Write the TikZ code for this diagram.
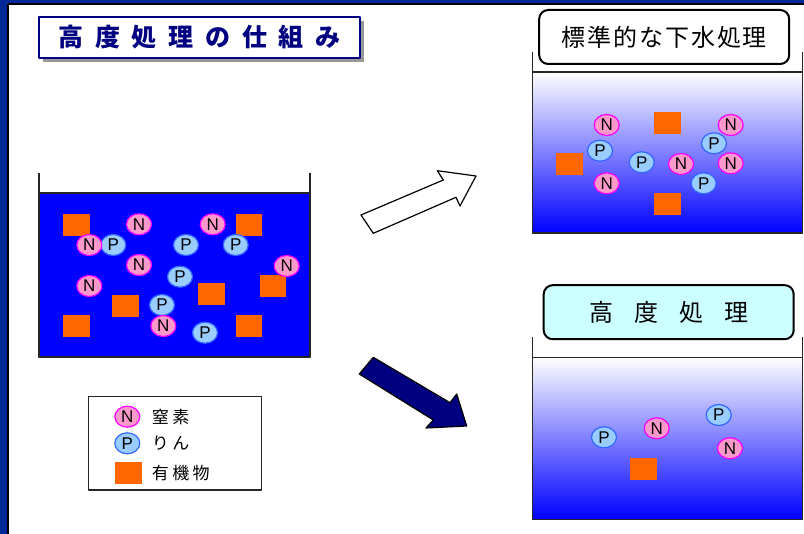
\documentclass[tikz,border=0pt]{standalone}
\usepackage{fontspec}
\setmainfont{Liberation Sans}
\newfontfamily\jpfont{Noto Sans CJK JP}
\usetikzlibrary{shapes.geometric, shadows}
\definecolor{framecolor}{RGB}{0, 40, 153}
\definecolor{titlecolor}{RGB}{0, 0, 128}
\definecolor{watercolor}{RGB}{0, 0, 255}
\definecolor{nfill}{RGB}{255, 153, 204}
\definecolor{nedge}{RGB}{255, 0, 255}
\definecolor{pfill}{RGB}{153, 204, 255}
\definecolor{pedge}{RGB}{51, 102, 255}
\definecolor{orgcolor}{RGB}{255, 102, 0}
\definecolor{cleancolor}{RGB}{204, 255, 255}

\begin{document}
\begin{tikzpicture}[x=1pt, y=-1pt, line join=round,
  nitro/.style={ellipse, draw=nedge, fill=nfill, line width=1.2pt,
    minimum width=25pt, minimum height=21pt, inner sep=0pt,
    font=\fontsize{17}{17}\selectfont},
  phos/.style={nitro, draw=pedge, fill=pfill},
  organic/.style={rectangle, fill=orgcolor, minimum width=26.5pt,
    minimum height=22pt, inner sep=0pt},
  tankwall/.style={line width=1.5pt, black!85},
  labelbox/.style={draw=black, line width=2pt, rounded corners=9pt,
    minimum width=250pt, minimum height=54pt, inner sep=0pt},
  legendtext/.style={anchor=west, inner sep=0pt,
    font=\jpfont\fontsize{17}{17}\selectfont\addfontfeature{LetterSpace=20}}]

  \useasboundingbox (0,0) rectangle (804,534);

  % Frame
  \fill[framecolor] (0,0) rectangle (7,534);
  \fill[framecolor] (0,0) rectangle (804,3);
  \draw[black, line width=1.5pt] (7.8,534) -- (7.8,3.8) -- (804,3.8);

  % Title
  \node[draw=titlecolor, fill=white, line width=2pt, minimum width=321pt,
    minimum height=41pt, inner sep=0pt, text=titlecolor,
    drop shadow={shadow xshift=4pt, shadow yshift=-4pt, fill=gray!80, opacity=1},
    font=\jpfont\bfseries\fontsize{25}{25}\selectfont\addfontfeature{LetterSpace=47}]
    (title) at (199.5,37.5) {高度処理の仕組み};

  % Raw sewage tank
  \filldraw[fill=watercolor, draw=black!85, line width=1.5pt]
    (39,193) rectangle (310,357);
  \draw[tankwall] (39,173) -- (39,357) -- (310,357) -- (310,173);
  \foreach \x/\y [count=\i] in {76.7/225, 249/225, 273/286, 211.7/294,
      125.7/306.5, 76.7/326.5, 249/326.5}
    \node[organic] (rawO\i) at (\x,\y) {};
  \foreach \x/\y [count=\i] in {113.3/245, 186/245, 235.7/245, 180/276.7,
      162/305, 205/332.7}
    \node[phos] (rawP\i) at (\x,\y) {P};
  \foreach \x/\y [count=\i] in {139/224.3, 212.7/224.3, 89.3/245, 139/265,
      286.7/266, 89.3/286, 163.3/326}
    \node[nitro] (rawN\i) at (\x,\y) {N};

  % Standard treatment tank
  \shade[top color=white, middle color=watercolor!27, bottom color=watercolor]
    (532.3,72) rectangle (802.7,233);
  \draw[tankwall] (532.3,72) -- (802.7,72);
  \draw[tankwall] (532.3,52) -- (532.3,233) -- (802.7,233) -- (802.7,52);
  \foreach \x/\y [count=\i] in {667.7/122.7, 569.3/164, 667.7/204.3}
    \node[organic] (stdO\i) at (\x,\y) {};
  \foreach \x/\y [count=\i] in {600/150.7, 641.7/162.3, 714/143.3, 703.7/183.3}
    \node[phos] (stdP\i) at (\x,\y) {P};
  \foreach \x/\y [count=\i] in {606.7/125, 730.7/125, 681/164, 730.7/163.3,
      606.7/183.3}
    \node[nitro] (stdN\i) at (\x,\y) {N};
  \node[labelbox, fill=white,
    font=\jpfont\fontsize{24}{24}\selectfont\addfontfeature{LetterSpace=8}]
    (stdlabel) at (664.2,37) {標準的な下水処理};

  % Advanced treatment tank
  \shade[top color=white, middle color=watercolor!27, bottom color=watercolor]
    (532.3,357.3) rectangle (802.7,519.3);
  \draw[tankwall] (532.3,357.3) -- (802.7,357.3);
  \draw[tankwall] (532.3,336.7) -- (532.3,519.3) -- (802.7,519.3) -- (802.7,336.7);
  \node[organic] (advO1) at (643.3,469) {};
  \node[phos] (advP1) at (604,437.3) {P};
  \node[phos] (advP2) at (718.7,415) {P};
  \node[nitro] (advN1) at (656.7,428.3) {N};
  \node[nitro] (advN2) at (730,448.3) {N};
  \node[labelbox, fill=cleancolor,
    font=\jpfont\fontsize{24}{24}\selectfont\addfontfeature{LetterSpace=87}]
    (advlabel) at (668.7,312.2) {高度処理};

  % Arrows
  \draw[line width=1.2pt, fill=white] (361,215) -- (443.3,180) -- (437.3,170.7)
    -- (476,176) -- (460,206) -- (456,197.3) -- (373.3,233.3) -- cycle;
  \draw[line width=1.2pt, fill=titlecolor] (373.3,357.3) -- (450,402.7)
    -- (456.7,394) -- (466.7,426) -- (426,428) -- (433.3,420) -- (359.3,374) -- cycle;

  % Legend
  \draw[black!85, line width=1.5pt] (88.3,396.7) rectangle (261.7,490);
  \node[nitro] (keyN) at (127.3,416.7) {N};
  \node[phos] (keyP) at (127.3,443.3) {P};
  \node[organic] (keyO) at (128.7,473.3) {};
  \node[legendtext] at (151.7,416.7) {窒素};
  \node[legendtext] at (151.7,443.3) {りん};
  \node[legendtext] at (151.7,473.3) {有機物};

\end{tikzpicture}
\end{document}
